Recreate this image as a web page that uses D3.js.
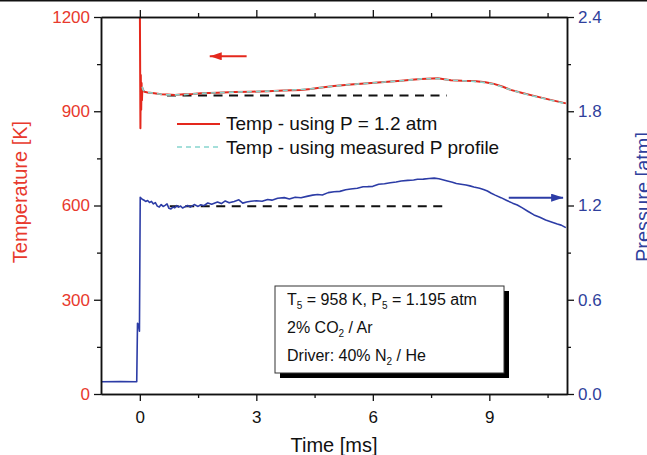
<!DOCTYPE html>
<html>
<head>
<meta charset="utf-8">
<script src="https://cdn.jsdelivr.net/npm/d3@7"></script>
<style>
  body { margin: 0; background: #fff; }
  text { font-family: Arial, "Liberation Sans", sans-serif; }
</style>
</head>
<body>
<div id="chart"></div>
<script>
// Data
var timeTicks = [0, 3, 6, 9];
var tempTicks = [0, 300, 600, 900, 1200];
var presTicks = [0, 0.6, 1.2, 1.8, 2.4];

// Temp - using P = 1.2 atm  [time ms, K]
var tempConstP = [
  [0.0, 1260], [0.015, 846], [0.025, 1015], [0.035, 905], [0.045, 990], [0.055, 935],
  [0.065, 975], [0.08, 968], [0.12, 962], [0.2, 960], [0.37, 957], [0.55, 954],
  [0.71, 953], [0.9, 952], [1.14, 954], [1.35, 955], [1.57, 957], [2.0, 959],
  [2.43, 961], [2.85, 962], [3.29, 964], [3.7, 966], [4.15, 968], [4.4, 971],
  [4.58, 974], [5.0, 980], [5.43, 985], [5.87, 989], [6.3, 993], [6.73, 997],
  [7.0, 1000], [7.24, 1003], [7.67, 1005], [8.01, 999], [8.3, 997], [8.6, 996],
  [8.9, 992], [9.12, 987], [9.35, 978], [9.55, 968], [9.85, 958], [10.15, 949],
  [10.55, 937], [10.97, 925]
];

// Temp - using measured P profile  [time ms, K]
var tempMeasuredP = [
  [0.06, 978], [0.08, 969], [0.12, 963], [0.2, 960], [0.37, 957], [0.55, 954],
  [0.71, 952], [0.9, 952], [1.14, 953], [1.35, 955], [1.57, 957], [2.0, 959],
  [2.43, 961], [2.85, 962], [3.29, 964], [3.7, 966], [4.15, 969], [4.4, 971],
  [4.58, 974], [5.0, 980], [5.43, 985], [5.87, 989], [6.3, 993], [6.73, 997],
  [7.0, 1000], [7.24, 1003], [7.67, 1004], [8.01, 999], [8.3, 997], [8.6, 995],
  [8.9, 991], [9.12, 986], [9.35, 977], [9.55, 968], [9.85, 957], [10.15, 948],
  [10.55, 936], [10.97, 924]
];

// Measured pressure  [time ms, atm]
var pressure = [
  [-1.0, 0.078], [-0.5, 0.08], [-0.08, 0.078], [-0.06, 0.45], [-0.03, 0.44], [-0.01, 0.40],
  [0.01, 1.252], [0.06, 1.24], [0.1, 1.235], [0.15, 1.226], [0.2, 1.232], [0.25, 1.219],
  [0.3, 1.226], [0.35, 1.21], [0.4, 1.218], [0.45, 1.196], [0.5, 1.19], [0.55, 1.206],
  [0.6, 1.194], [0.65, 1.201], [0.7, 1.21], [0.75, 1.182], [0.8, 1.178], [0.85, 1.19],
  [0.9, 1.185], [0.95, 1.2], [1.0, 1.19], [1.05, 1.197], [1.1, 1.184], [1.15, 1.19],
  [1.23, 1.2], [1.3, 1.19], [1.4, 1.206], [1.5, 1.194], [1.57, 1.205], [1.65, 1.199],
  [1.75, 1.216], [1.85, 1.208], [2.0, 1.222], [2.1, 1.212], [2.2, 1.229], [2.3, 1.217],
  [2.43, 1.226], [2.55, 1.236], [2.65, 1.215], [2.75, 1.222], [2.86, 1.227], [3.0, 1.23],
  [3.15, 1.227], [3.29, 1.238], [3.4, 1.234], [3.55, 1.246], [3.72, 1.25], [3.85, 1.242],
  [4.0, 1.253], [4.15, 1.249], [4.3, 1.258], [4.45, 1.266], [4.58, 1.27], [4.7, 1.267],
  [4.85, 1.282], [5.0, 1.288], [5.15, 1.29], [5.3, 1.3], [5.43, 1.305], [5.6, 1.31],
  [5.75, 1.319], [5.87, 1.32], [6.0, 1.322], [6.15, 1.335], [6.3, 1.338], [6.45, 1.345],
  [6.6, 1.35], [6.73, 1.356], [6.9, 1.36], [7.05, 1.362], [7.15, 1.367], [7.3, 1.368],
  [7.45, 1.372], [7.58, 1.374], [7.7, 1.37], [7.8, 1.364], [7.92, 1.356], [8.05, 1.348],
  [8.15, 1.34], [8.27, 1.335], [8.4, 1.33], [8.5, 1.325], [8.6, 1.318], [8.75, 1.31],
  [8.85, 1.302], [8.95, 1.292], [9.05, 1.278], [9.15, 1.266], [9.3, 1.25], [9.45, 1.232],
  [9.6, 1.215], [9.72, 1.203], [9.85, 1.185], [10.0, 1.162], [10.15, 1.14], [10.3, 1.125],
  [10.45, 1.108], [10.58, 1.097], [10.75, 1.082], [10.85, 1.075], [10.97, 1.059]
];

// Reference levels (black dashed)
var tempRef = [[0.7, 950], [7.9, 950]];
var presRef = [[0.77, 1.195], [7.94, 1.195]];

var legendLabels = ['Temp - using P = 1.2 atm', 'Temp - using measured P profile'];

// Set up
var W = 647, H = 455;
var mLeft = 101, mRight = 567, mTop = 17, mBottom = 394;
var red = '#e4281d', blue = '#2c3ca6', cyan = '#86d5ce';
var redText = '#e8392d', blueText = '#2f3f9c';

var svg = d3.select('#chart').append('svg')
  .attr('width', W)
  .attr('height', H);

svg.append('rect').attr('width', W).attr('height', H).attr('fill', '#fff');
svg.append('rect').attr('x', 0).attr('y', 0).attr('width', W).attr('height', 1.5).attr('fill', '#111');

var x = d3.scaleLinear().domain([-1, 11]).range([mLeft, mRight]);
var yT = d3.scaleLinear().domain([0, 1200]).range([mBottom, mTop]);
var yP = d3.scaleLinear().domain([0, 2.4]).range([mBottom, mTop]);

svg.append('clipPath').attr('id', 'clip')
  .append('rect')
  .attr('x', mLeft).attr('y', mTop)
  .attr('width', mRight - mLeft).attr('height', mBottom - mTop);

var plot = svg.append('g').attr('clip-path', 'url(#clip)');

// Draw the curves
var lineT = d3.line().x(d => x(d[0])).y(d => yT(d[1]));
var lineP = d3.line().x(d => x(d[0])).y(d => yP(d[1]));

plot.append('path').datum(tempRef)
  .attr('d', lineT).attr('fill', 'none')
  .attr('stroke', '#111').attr('stroke-width', 2).attr('stroke-dasharray', '9,6.5');
plot.append('path').datum(presRef)
  .attr('d', lineP).attr('fill', 'none')
  .attr('stroke', '#111').attr('stroke-width', 2).attr('stroke-dasharray', '9,6.5');

plot.append('path').datum(pressure)
  .attr('d', lineP).attr('fill', 'none')
  .attr('stroke', blue).attr('stroke-width', 1.6).attr('stroke-linejoin', 'round');

plot.append('path').datum(tempConstP)
  .attr('d', lineT).attr('fill', 'none')
  .attr('stroke', red).attr('stroke-width', 2).attr('stroke-linejoin', 'round');
plot.append('path').datum(tempMeasuredP)
  .attr('d', lineT).attr('fill', 'none')
  .attr('stroke', cyan).attr('stroke-width', 1.6).attr('stroke-dasharray', '5,4');

// Axes
var xMinor = [1.5, 4.5, 7.5, 10.5];
var tMinor = [150, 450, 750, 1050];
var pMinor = [0.3, 0.9, 1.5, 2.1];

function styleAxis(g, color) {
  g.select('.domain').attr('stroke', '#111').attr('stroke-width', 1.5);
  g.selectAll('.tick line').attr('stroke', '#111').attr('stroke-width', 1.3);
  g.selectAll('.tick text').attr('fill', color).attr('font-size', 17)
    .style('font-family', 'Arial, "Liberation Sans", sans-serif');
}

var gx = svg.append('g').attr('transform', 'translate(0,' + mBottom + ')')
  .call(d3.axisBottom(x).tickValues(timeTicks).tickSize(7).tickSizeOuter(0).tickPadding(6));
styleAxis(gx, '#111');
gx.selectAll('.tick text').attr('dy', '0.95em');
svg.append('g').attr('transform', 'translate(0,' + mBottom + ')')
  .call(d3.axisBottom(x).tickValues(xMinor).tickSize(4).tickFormat('').tickSizeOuter(0))
  .call(g => styleAxis(g, '#111'));

var gxt = svg.append('g').attr('transform', 'translate(0,' + mTop + ')')
  .call(d3.axisTop(x).tickValues(timeTicks).tickSize(7).tickFormat('').tickSizeOuter(0));
styleAxis(gxt, '#111');
svg.append('g').attr('transform', 'translate(0,' + mTop + ')')
  .call(d3.axisTop(x).tickValues(xMinor).tickSize(4).tickFormat('').tickSizeOuter(0))
  .call(g => styleAxis(g, '#111'));

var gl = svg.append('g').attr('transform', 'translate(' + mLeft + ',0)')
  .call(d3.axisLeft(yT).tickValues(tempTicks).tickSize(7).tickSizeOuter(0).tickPadding(4)
    .tickFormat(d3.format('d')));
styleAxis(gl, redText);
svg.append('g').attr('transform', 'translate(' + mLeft + ',0)')
  .call(d3.axisLeft(yT).tickValues(tMinor).tickSize(4).tickFormat('').tickSizeOuter(0))
  .call(g => styleAxis(g, redText));

var gr = svg.append('g').attr('transform', 'translate(' + mRight + ',0)')
  .call(d3.axisRight(yP).tickValues(presTicks).tickSize(7).tickSizeOuter(0).tickPadding(4)
    .tickFormat(d3.format('.1f')));
styleAxis(gr, blueText);
svg.append('g').attr('transform', 'translate(' + mRight + ',0)')
  .call(d3.axisRight(yP).tickValues(pMinor).tickSize(4).tickFormat('').tickSizeOuter(0))
  .call(g => styleAxis(g, blueText));

// Axis titles
svg.append('text')
  .attr('x', (mLeft + mRight) / 2).attr('y', 452)
  .attr('text-anchor', 'middle').attr('font-size', 20).attr('fill', '#111')
  .text('Time [ms]');
svg.append('text')
  .attr('transform', 'translate(27,192) rotate(-90)')
  .attr('text-anchor', 'middle').attr('font-size', 20).attr('fill', redText)
  .text('Temperature [K]');
svg.append('text')
  .attr('transform', 'translate(650,197) rotate(-90)')
  .attr('text-anchor', 'middle').attr('font-size', 20).attr('fill', blueText)
  .text('Pressure [atm]');

// Arrows
var defs = svg.append('defs');
[['headRed', red], ['headBlue', blue]].forEach(function(m) {
  defs.append('marker')
    .attr('id', m[0]).attr('viewBox', '0 0 12 8')
    .attr('refX', 12).attr('refY', 4)
    .attr('markerWidth', 12).attr('markerHeight', 8)
    .attr('markerUnits', 'userSpaceOnUse').attr('orient', 'auto')
    .append('path').attr('d', 'M0,0 L12,4 L0,8 Z').attr('fill', m[1]);
});
svg.append('line')
  .attr('x1', x(2.75)).attr('x2', x(1.8)).attr('y1', yT(1075)).attr('y2', yT(1075))
  .attr('stroke', red).attr('stroke-width', 2).attr('marker-end', 'url(#headRed)');
svg.append('line')
  .attr('x1', x(9.5)).attr('x2', x(10.9)).attr('y1', yP(1.25)).attr('y2', yP(1.25))
  .attr('stroke', blue).attr('stroke-width', 2).attr('marker-end', 'url(#headBlue)');

// Legend
var leg = svg.append('g').attr('transform', 'translate(177,124)');
leg.append('line').attr('x1', 0).attr('x2', 43).attr('y1', 0).attr('y2', 0)
  .attr('stroke', red).attr('stroke-width', 2);
leg.append('line').attr('x1', 0).attr('x2', 43).attr('y1', 23).attr('y2', 23)
  .attr('stroke', cyan).attr('stroke-width', 1.6).attr('stroke-dasharray', '5,4');
leg.selectAll('text.lab')
  .data(legendLabels)
  .join('text')
    .attr('class', 'lab')
    .attr('x', 49).attr('y', (d, i) => 5.5 + i * 24)
    .attr('font-size', 19).attr('fill', '#111')
    .text(d => d);

// Annotation box
var box = svg.append('g').attr('transform', 'translate(275,286)');
box.append('rect').attr('x', 5).attr('y', 5).attr('width', 229).attr('height', 87).attr('fill', '#000');
box.append('rect').attr('x', 0).attr('y', 0).attr('width', 229).attr('height', 87)
  .attr('fill', '#fff').attr('stroke', '#333').attr('stroke-width', 1);

var lines = [
  [['T', 0], ['5', 1], [' = 958 K, P', 0], ['5', 1], [' = 1.195 atm', 0]],
  [['2% CO', 0], ['2', 1], [' / Ar', 0]],
  [['Driver: 40% N', 0], ['2', 1], [' / He', 0]]
];
lines.forEach(function(parts, i) {
  var t = box.append('text')
    .attr('x', 12).attr('y', 19 + i * 28)
    .attr('font-size', 16).attr('fill', '#111');
  var shift = 0;
  parts.forEach(function(p) {
    var want = p[1] ? 4 : 0;
    t.append('tspan')
      .attr('font-size', p[1] ? 10 : 16)
      .attr('dy', want - shift)
      .text(p[0]);
    shift = want;
  });
});
</script>
</body>
</html>
